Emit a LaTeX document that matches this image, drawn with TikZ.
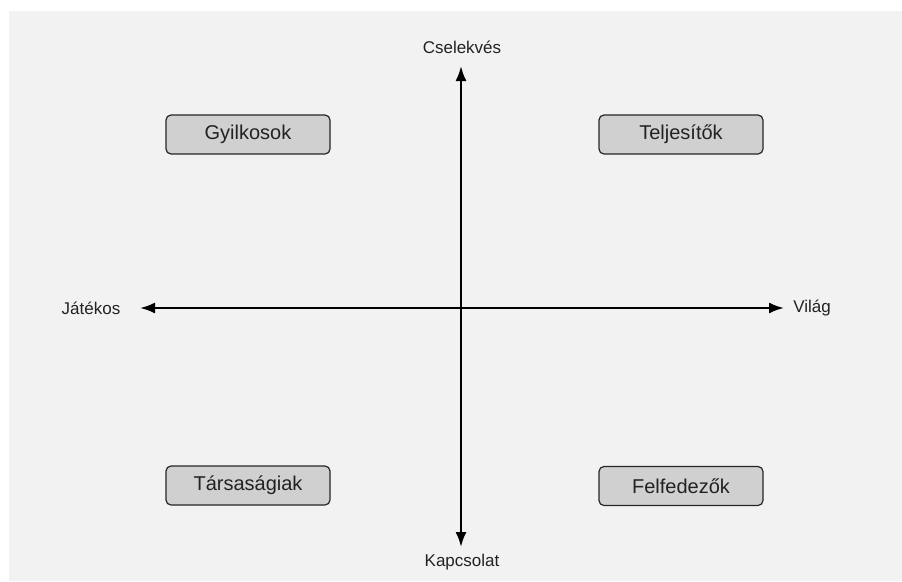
\documentclass[tikz,border=0pt]{standalone}
\usepackage{fontspec}
\setmainfont{Liberation Sans}
\usetikzlibrary{arrows.meta}

\definecolor{bggray}{RGB}{242,242,242}
\definecolor{boxgray}{RGB}{208,208,208}
\definecolor{textgray}{RGB}{34,34,34}

\tikzset{
	axislabel/.style={text=textgray,font=\fontsize{17}{20}\selectfont,inner sep=0pt},
	typebox/.style={draw=black!85,line width=1.2pt,fill=boxgray,rounded corners=5pt,
		minimum width=164pt,minimum height=39pt,inner sep=0pt,
		text=textgray,font=\fontsize{20}{24}\selectfont},
	axis/.style={line width=2.2pt,{Latex[length=15pt,width=11pt]}-{Latex[length=15pt,width=11pt]}}
}

\begin{document}
\begin{tikzpicture}[x=1pt,y=1pt]
		\useasboundingbox (0,0) rectangle (902,-581);
		\fill[bggray] (9,-11) rectangle (902,-581);
		% axis ends
		\coordinate (up) at (461,-66);
		\coordinate (down) at (461,-547);
		\coordinate (left) at (140,-308);
		\coordinate (right) at (784,-308);
		% axis labels
		\node[axislabel] (cselekves) at (462,-47) {Cselekvés};
		\node[axislabel] (kapcsolat) at (462,-562) {Kapcsolat};
		\node[axislabel] (jatekos) at (91,-308) {Játékos};
		\node[axislabel] (vilag) at (812,-308) {Világ};
		\draw[axis] (down) -- (up);
		\draw[axis] (left) -- (right);
		% player types
		\node[typebox] (gyilkosok) at (248,-134.5) {Gyilkosok};
		\node[typebox] (teljesitok) at (681,-134.5) {Teljesítők};
		\node[typebox] (tarsasagiak) at (248,-485.5) {Társaságiak};
		\node[typebox] (felfedezok) at (681,-486) {Felfedezők};
\end{tikzpicture}
\end{document}
